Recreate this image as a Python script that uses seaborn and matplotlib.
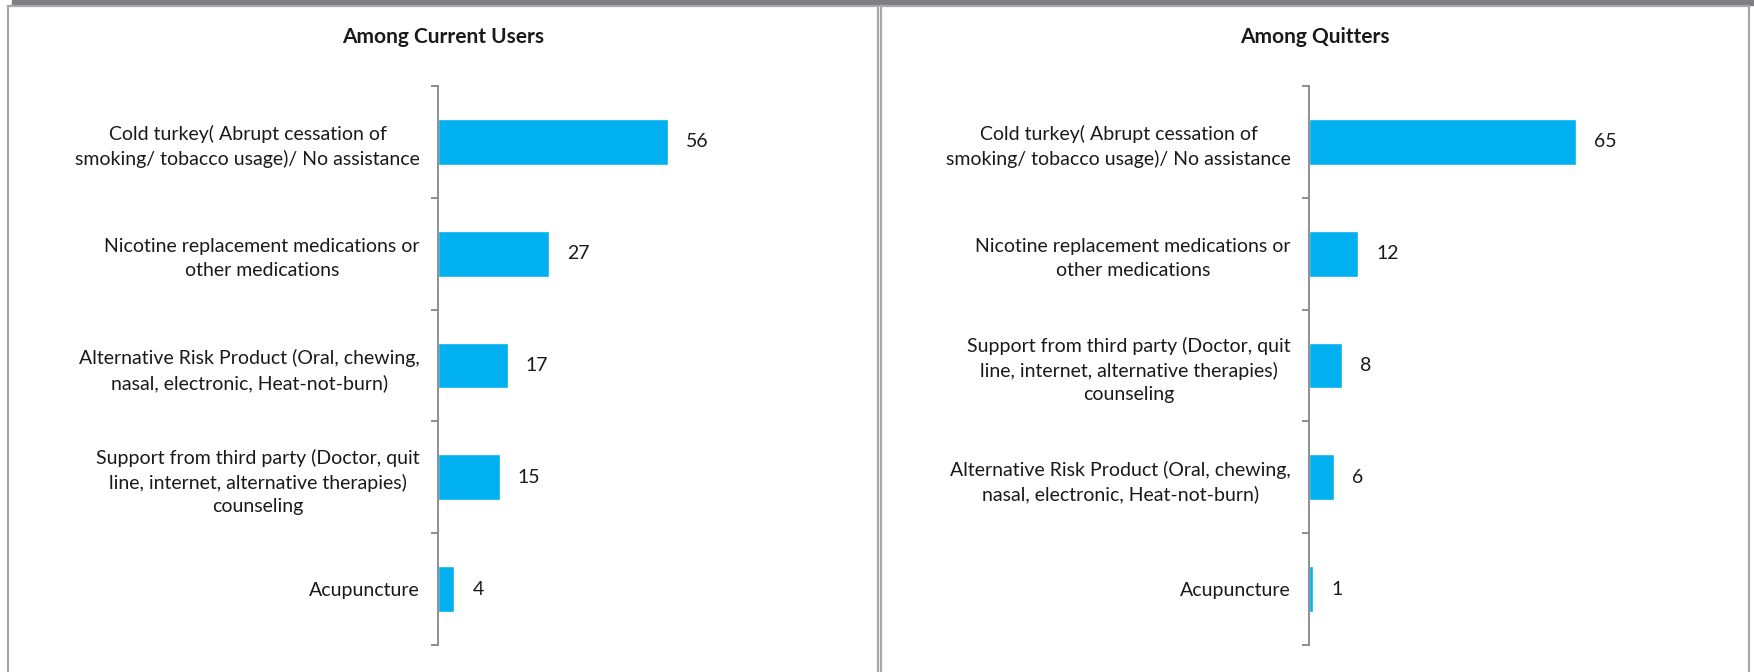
import numpy as np
import pandas as pd
import matplotlib
matplotlib.use("Agg")
import matplotlib.pyplot as plt
from matplotlib.patches import Rectangle
import seaborn as sns

# values
current_labels = [
    "Cold turkey( Abrupt cessation of\nsmoking/ tobacco usage)/ No assistance",
    "Nicotine replacement medications or\nother medications",
    "Alternative Risk Product (Oral, chewing,\nnasal, electronic, Heat-not-burn)",
    "Support from third party (Doctor, quit\nline, internet, alternative therapies)\ncounseling",
    "Acupuncture",
]
current_values = [56, 27, 17, 15, 4]

quitter_labels = [
    "Cold turkey( Abrupt cessation of\nsmoking/ tobacco usage)/ No assistance",
    "Nicotine replacement medications or\nother medications",
    "Support from third party (Doctor, quit\nline, internet, alternative therapies)\ncounseling",
    "Alternative Risk Product (Oral, chewing,\nnasal, electronic, Heat-not-burn)",
    "Acupuncture",
]
quitter_values = [65, 12, 8, 6, 1]

titles = ["Among Current Users", "Among Quitters"]

BAR_COLOR = "#00B0F0"
AXIS_GRAY = "#868686"
PANEL_GRAY = "#A6A6AE"

sns.set_style("white")
plt.rcParams["font.family"] = ["Lato", "DejaVu Sans"]

W, H = 1754, 672
fig = plt.figure(figsize=(W / 100, H / 100), dpi=100)


def px_rect(x0, y0, x1, y1):
    # pixel box (top-left origin) -> figure fraction
    return [x0 / W, 1 - y1 / H, (x1 - x0) / W, (y1 - y0) / H]


# panel frames and top band
fig.patches.append(Rectangle((12 / W, 1 - 5 / H), (W - 12) / W, 5 / H,
                             transform=fig.transFigure, color="#7F7F7F", zorder=0))
for x0, x1 in [(8, 878), (881, 1749)]:
    fig.patches.append(Rectangle((x0 / W, -0.05), (x1 - x0) / W, 1.05 - 6 / H,
                                 transform=fig.transFigure, fill=False,
                                 edgecolor=PANEL_GRAY, linewidth=1.6, zorder=0))

panels = [
    (current_labels, current_values, 438, 443),
    (quitter_labels, quitter_values, 1309, 1315),
]

for (labels, values, ax_x, center_x), title in zip(panels, titles):
    ax = fig.add_axes(px_rect(ax_x, 86, ax_x + 410, 645))
    df = pd.DataFrame({"label": labels, "value": values})
    sns.barplot(data=df, y="label", x="value", orient="h", color=BAR_COLOR,
                width=0.41, saturation=1, ax=ax)
    ax.set_xlim(0, 100)
    ax.set_ylim(4.5, -0.5)
    ax.set_xlabel("")
    ax.set_ylabel("")
    ax.set_xticks([])
    for side in ["top", "right", "bottom"]:
        ax.spines[side].set_visible(False)
    ax.spines["left"].set_color(AXIS_GRAY)
    ax.spines["left"].set_linewidth(1.3)

    ax.set_yticks(range(len(labels)))
    ax.set_yticklabels(labels, multialignment="center", fontsize=14,
                       linespacing=1.45, color="#1a1a1a")
    ax.tick_params(axis="y", which="major", length=0, pad=13)
    ax.set_yticks(np.arange(-0.5, len(labels)), minor=True)
    ax.tick_params(axis="y", which="minor", length=5, width=1.3, color=AXIS_GRAY, left=True)

    for container in ax.containers:
        ax.bar_label(container, padding=13, fontsize=14, color="#1a1a1a")

    fig.text(center_x / W, 1 - 37 / H, title, ha="center", va="center",
             fontsize=15, fontweight="bold", color="#1a1a1a")

fig.savefig("out.png", dpi=100, facecolor="white")
